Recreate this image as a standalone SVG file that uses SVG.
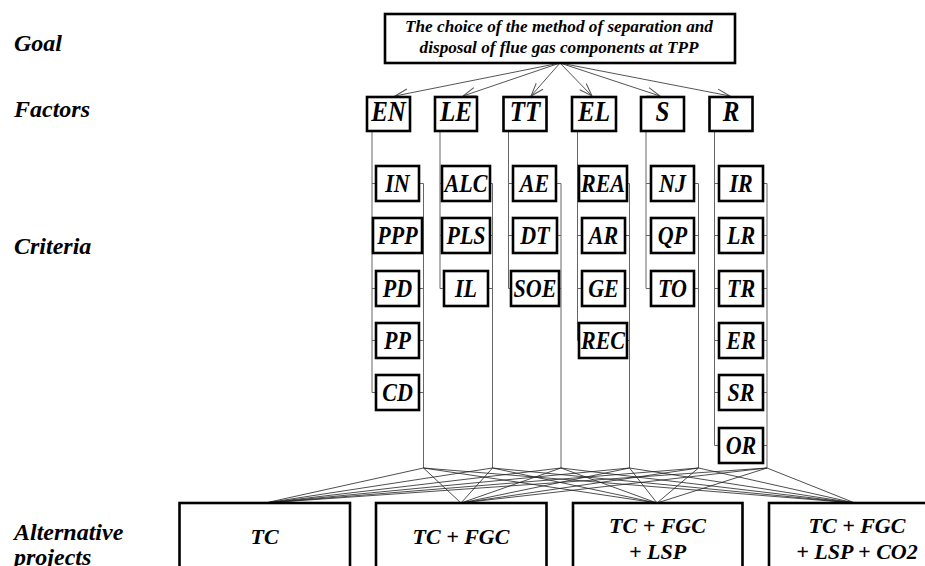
<svg xmlns="http://www.w3.org/2000/svg" width="925" height="566" viewBox="0 0 925 566">
  <style>
    .box { fill: #fff; stroke: #000; stroke-width: 2.6; }
    text { font-family: 'Liberation Serif', 'Times New Roman', Times, serif; font-weight: 700; font-style: italic; fill: #000; }
    .lvl { font-size: 24px; }
    .goal { font-size: 17.2px; text-anchor: middle; }
    .fac { font-size: 25px; text-anchor: middle; }
    .crit { font-size: 22px; text-anchor: middle; }
    .alt { font-size: 22px; text-anchor: middle; }
    .tree { stroke: #666; stroke-width: 1; fill: none; }
    .mesh { stroke: #222; stroke-width: 0.8; fill: none; }
    .arr { stroke: #555; stroke-width: 1; fill: none; marker-end: url(#vhead); }
  </style>
  <defs>
    <marker id="vhead" markerUnits="userSpaceOnUse" markerWidth="16" markerHeight="12" viewBox="-14 -6 16 12" refX="0" refY="0" orient="auto">
      <path d="M-13,-4.5 L0,0 L-13,4.5" fill="none" stroke="#555" stroke-width="1"/>
    </marker>
  </defs>

  <!-- level captions -->
  <g id="levels">
    <text class="lvl" x="14" y="51">Goal</text>
    <text class="lvl" x="14" y="117">Factors</text>
    <text class="lvl" x="14" y="254">Criteria</text>
    <text class="lvl" x="14" y="540">Alternative</text>
    <text class="lvl" x="14" y="565">projects</text>
  </g>

  <g id="connectors">
    <!-- goal to factors -->
    <line class="arr" x1="560" y1="63" x2="395" y2="96"/>
    <line class="arr" x1="560" y1="63" x2="463" y2="96"/>
    <line class="arr" x1="560" y1="63" x2="531" y2="96"/>
    <line class="arr" x1="560" y1="63" x2="592" y2="96"/>
    <line class="arr" x1="560" y1="63" x2="660" y2="96"/>
    <line class="arr" x1="560" y1="63" x2="730" y2="96"/>

    <!-- EN column -->
    <path class="tree" d="M372,131 V392.5 M423.5,183.5 V468
      M372,183.5 H376 M419,183.5 H423.5
      M372,235.5 H373 M422,235.5 H423.5
      M372,288.5 H376 M419,288.5 H423.5
      M372,340.5 H376 M419,340.5 H423.5
      M372,392.5 H376 M419,392.5 H423.5"/>
    <!-- LE column -->
    <path class="tree" d="M440,131 V288.5 M492.5,183.5 V468
      M440,183.5 H442 M490,183.5 H492.5
      M440,235.5 H442 M490,235.5 H492.5
      M440,288.5 H444 M488,288.5 H492.5"/>
    <!-- TT column -->
    <path class="tree" d="M508.5,131 V288.5 M561,183.5 V468
      M508.5,183.5 H513 M556,183.5 H561
      M508.5,235.5 H513 M557,235.5 H561
      M508.5,288.5 H511 M559,288.5 H561"/>
    <!-- EL column -->
    <path class="tree" d="M577.5,131 V340.5 M629.5,183.5 V468
      M577.5,183.5 H579 M627,183.5 H629.5
      M577.5,235.5 H582 M625,235.5 H629.5
      M577.5,288.5 H582 M625,288.5 H629.5
      M577.5,340.5 H579 M627,340.5 H629.5"/>
    <!-- S column -->
    <path class="tree" d="M646,131 V288.5 M698.5,183.5 V468
      M646,183.5 H651 M694,183.5 H698.5
      M646,235.5 H651 M694,235.5 H698.5
      M646,288.5 H651 M694,288.5 H698.5"/>
    <!-- R column -->
    <path class="tree" d="M714.5,131 V445.5 M767,183.5 V468
      M714.5,183.5 H719 M763,183.5 H767
      M714.5,235.5 H719 M763,235.5 H767
      M714.5,288.5 H719 M763,288.5 H767
      M714.5,340.5 H719 M763,340.5 H767
      M714.5,392.5 H719 M763,392.5 H767
      M714.5,445.5 H719 M763,445.5 H767"/>

    <!-- factor bundles to every alternative -->
    <path class="mesh" d="
      M423.5,468 L265,503 M423.5,468 L461,503 M423.5,468 L657,503 M423.5,468 L855,503
      M492.5,468 L265,503 M492.5,468 L461,503 M492.5,468 L657,503 M492.5,468 L855,503
      M561,468 L265,503 M561,468 L461,503 M561,468 L657,503 M561,468 L855,503
      M629.5,468 L265,503 M629.5,468 L461,503 M629.5,468 L657,503 M629.5,468 L855,503
      M698.5,468 L265,503 M698.5,468 L461,503 M698.5,468 L657,503 M698.5,468 L855,503
      M767,468 L265,503 M767,468 L461,503 M767,468 L657,503 M767,468 L855,503"/>
  </g>

  <!-- goal -->
  <g id="goal">
    <rect class="box" x="385" y="14" width="350" height="49"/>
    <text class="goal" x="559" y="32">The choice of the method of separation and</text>
    <text class="goal" x="559" y="53">disposal of flue gas components at TPP</text>
  </g>

  <!-- factors -->
  <g id="f-EN"><rect class="box" x="367" y="97" width="43" height="34"/><text class="fac" transform="translate(388.5,120.5) scale(1,1.2)">EN</text></g>
  <g id="f-LE"><rect class="box" x="435" y="97" width="42" height="34"/><text class="fac" transform="translate(456,120.5) scale(1,1.2)">LE</text></g>
  <g id="f-TT"><rect class="box" x="503.5" y="97" width="43" height="34"/><text class="fac" transform="translate(525,120.5) scale(1,1.2)">TT</text></g>
  <g id="f-EL"><rect class="box" x="572" y="97" width="44" height="34"/><text class="fac" transform="translate(594,120.5) scale(1,1.2)">EL</text></g>
  <g id="f-S"><rect class="box" x="641" y="97" width="43" height="34"/><text class="fac" transform="translate(662.5,120.5) scale(1,1.2)">S</text></g>
  <g id="f-R"><rect class="box" x="709.5" y="97" width="43" height="34"/><text class="fac" transform="translate(731,120.5) scale(1,1.2)">R</text></g>

  <!-- criteria: EN -->
  <g id="c-IN"><rect class="box" x="376" y="166" width="43" height="35"/><text class="crit" transform="translate(397.5,191.5) scale(1,1.12)">IN</text></g>
  <g id="c-PPP"><rect class="box" x="373" y="218" width="49" height="35"/><text class="crit" transform="translate(397.5,243.5) scale(1,1.12)">PPP</text></g>
  <g id="c-PD"><rect class="box" x="376" y="271" width="43" height="35"/><text class="crit" transform="translate(397.5,296.5) scale(1,1.12)">PD</text></g>
  <g id="c-PP"><rect class="box" x="376" y="323" width="43" height="35"/><text class="crit" transform="translate(397.5,348.5) scale(1,1.12)">PP</text></g>
  <g id="c-CD"><rect class="box" x="376" y="375" width="43" height="35"/><text class="crit" transform="translate(397.5,400.5) scale(1,1.12)">CD</text></g>

  <!-- criteria: LE -->
  <g id="c-ALC"><rect class="box" x="442" y="166" width="48" height="35"/><text class="crit" transform="translate(466,191.5) scale(1,1.12)">ALC</text></g>
  <g id="c-PLS"><rect class="box" x="442" y="218" width="48" height="35"/><text class="crit" transform="translate(466,243.5) scale(1,1.12)">PLS</text></g>
  <g id="c-IL"><rect class="box" x="444" y="271" width="44" height="35"/><text class="crit" transform="translate(466,296.5) scale(1,1.12)">IL</text></g>

  <!-- criteria: TT -->
  <g id="c-AE"><rect class="box" x="513" y="166" width="43" height="35"/><text class="crit" transform="translate(534.5,191.5) scale(1,1.12)">AE</text></g>
  <g id="c-DT"><rect class="box" x="513" y="218" width="44" height="35"/><text class="crit" transform="translate(535,243.5) scale(1,1.12)">DT</text></g>
  <g id="c-SOE"><rect class="box" x="511" y="271" width="48" height="35"/><text class="crit" transform="translate(535,296.5) scale(1,1.12)">SOE</text></g>

  <!-- criteria: EL -->
  <g id="c-REA"><rect class="box" x="579" y="166" width="48" height="35"/><text class="crit" transform="translate(603,191.5) scale(1,1.12)">REA</text></g>
  <g id="c-AR"><rect class="box" x="582" y="218" width="43" height="35"/><text class="crit" transform="translate(603.5,243.5) scale(1,1.12)">AR</text></g>
  <g id="c-GE"><rect class="box" x="582" y="271" width="43" height="35"/><text class="crit" transform="translate(603.5,296.5) scale(1,1.12)">GE</text></g>
  <g id="c-REC"><rect class="box" x="579" y="323" width="48" height="35"/><text class="crit" transform="translate(603,348.5) scale(1,1.12)">REC</text></g>

  <!-- criteria: S -->
  <g id="c-NJ"><rect class="box" x="651" y="166" width="43" height="35"/><text class="crit" transform="translate(672.5,191.5) scale(1,1.12)">NJ</text></g>
  <g id="c-QP"><rect class="box" x="651" y="218" width="43" height="35"/><text class="crit" transform="translate(672.5,243.5) scale(1,1.12)">QP</text></g>
  <g id="c-TO"><rect class="box" x="651" y="271" width="43" height="35"/><text class="crit" transform="translate(672.5,296.5) scale(1,1.12)">TO</text></g>

  <!-- criteria: R -->
  <g id="c-IR"><rect class="box" x="719" y="166" width="44" height="35"/><text class="crit" transform="translate(741,191.5) scale(1,1.12)">IR</text></g>
  <g id="c-LR"><rect class="box" x="719" y="218" width="44" height="35"/><text class="crit" transform="translate(741,243.5) scale(1,1.12)">LR</text></g>
  <g id="c-TR"><rect class="box" x="719" y="271" width="44" height="35"/><text class="crit" transform="translate(741,296.5) scale(1,1.12)">TR</text></g>
  <g id="c-ER"><rect class="box" x="719" y="323" width="44" height="35"/><text class="crit" transform="translate(741,348.5) scale(1,1.12)">ER</text></g>
  <g id="c-SR"><rect class="box" x="719" y="375" width="44" height="35"/><text class="crit" transform="translate(741,400.5) scale(1,1.12)">SR</text></g>
  <g id="c-OR"><rect class="box" x="719" y="428" width="44" height="35"/><text class="crit" transform="translate(741,453.5) scale(1,1.12)">OR</text></g>

  <!-- alternatives -->
  <g id="a-TC"><rect class="box" x="179.5" y="503" width="170.5" height="80"/><text class="alt" x="264.5" y="544">TC</text></g>
  <g id="a-TC-FGC"><rect class="box" x="376" y="503" width="170.5" height="80"/><text class="alt" x="461" y="544">TC + FGC</text></g>
  <g id="a-TC-FGC-LSP"><rect class="box" x="573" y="503" width="169.5" height="80"/><text class="alt" x="657.5" y="533">TC + FGC</text><text class="alt" x="657.5" y="559">+ LSP</text></g>
  <g id="a-TC-FGC-LSP-CO2"><rect class="box" x="769" y="503" width="171" height="80"/><text class="alt" x="857" y="533">TC + FGC</text><text class="alt" x="857" y="559">+ LSP + CO2</text></g>
</svg>
